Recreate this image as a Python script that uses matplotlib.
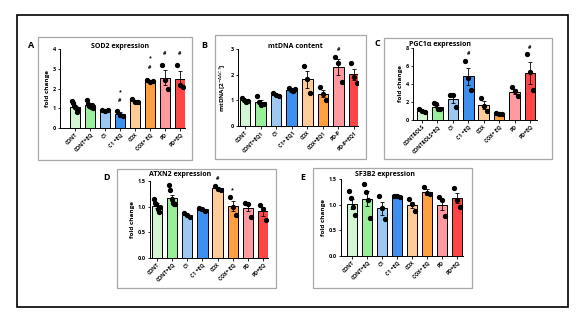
import numpy as np
import matplotlib
matplotlib.use("Agg")
import matplotlib.pyplot as plt
from matplotlib.patches import Rectangle

plt.rcParams['font.family'] = ['Open Sans', 'DejaVu Sans']

colors = ["#d3f5d3", "#99ee99", "#9cc8f2", "#3d8ff0",
          "#ffcc99", "#ff9f40", "#ff9ba0", "#ff4545"]

# panel A - SOD2
sod2_labels = ["CONT", "CONT+EQ", "C1", "C1 +EQ", "COX", "COX+ EQ", "PD", "PD+EQ"]
sod2_mean = [1.08, 1.15, 0.90, 0.70, 1.35, 2.40, 2.55, 2.50]
sod2_err = [0.10, 0.08, 0.02, 0.12, 0.07, 0.05, 0.38, 0.38]
sod2_pts = [[1.35, 1.25, 1.10, 1.00, 0.80, 0.95],
            [1.40, 1.20, 1.10, 1.05, 1.15, 1.00],
            [0.90, 0.88, 0.92],
            [0.85, 0.65, 0.60],
            [1.45, 1.30, 1.30],
            [2.45, 2.35, 2.40],
            [3.20, 2.45, 2.00],
            [3.20, 2.20, 2.10]]
sod2_marks = [(3, 1.83, "*"), (3, 1.40, "#"), (5, 3.57, "*"), (5, 3.07, "#"),
              (6, 3.78, "#"), (7, 3.78, "#")]

# panel B - mtDNA
mt_labels = ["CONT", "CONT+EQ1", "C1", "C1+ EQ1", "COX", "COX+EQ1", "PD-P", "PD-P+EQ1"]
mt_mean = [1.00, 0.92, 1.21, 1.42, 1.82, 1.26, 2.30, 2.01]
mt_err = [0.03, 0.08, 0.05, 0.05, 0.33, 0.14, 0.30, 0.22]
mt_pts = [[1.10, 1.00, 0.95, 0.98],
          [1.15, 0.95, 0.80, 0.85, 0.85],
          [1.28, 1.20, 1.15],
          [1.48, 1.40, 1.35, 1.45],
          [2.35, 1.85, 1.27],
          [1.52, 1.25, 1.00],
          [2.69, 2.47, 1.71],
          [2.45, 1.90, 1.69]]
mt_marks = [(6, 2.98, "#")]

# panel C - PGC1a
pgc_labels = ["CONTROLS", "CONTROLS+EQ", "C1", "C1 +EQ", "COX", "COX+ EQ", "PD", "PD+EQ"]
pgc_mean = [1.05, 1.50, 2.30, 4.85, 1.70, 0.70, 3.15, 5.25]
pgc_err = [0.10, 0.20, 0.45, 0.95, 0.45, 0.05, 0.30, 1.20]
pgc_pts = [[1.25, 1.00, 0.90],
           [1.85, 1.75, 1.20, 1.20],
           [2.75, 2.75, 1.40],
           [6.55, 4.70, 3.30],
           [2.45, 1.60, 1.05],
           [0.75, 0.70, 0.65],
           [3.70, 3.20, 2.65],
           [7.30, 5.30, 3.30]]
pgc_marks = [(3, 7.4, "#"), (7, 8.05, "#")]

# panel D - ATXN2
atx_labels = ["CONT", "CONT+EQ", "C1", "C1 +EQ", "COX", "COX+ EQ", "PD", "PD+EQ"]
atx_mean = [1.02, 1.17, 0.83, 0.95, 1.36, 1.02, 0.98, 0.91]
atx_err = [0.05, 0.06, 0.01, 0.03, 0.03, 0.10, 0.07, 0.09]
atx_pts = [[1.15, 1.08, 1.05, 0.95, 0.90, 1.00],
           [1.42, 1.32, 1.15, 1.08, 1.05, 1.05],
           [0.88, 0.83, 0.80],
           [0.98, 0.95, 0.92],
           [1.40, 1.35, 1.33],
           [1.19, 0.99, 0.83],
           [1.08, 1.06, 0.80],
           [1.03, 0.96, 0.75]]
atx_marks = [(4, 1.55, "#"), (5, 1.32, "*")]

# panel E - SF3B2
sf_labels = ["CONT", "CONT+EQ", "C1", "C1 +EQ", "COX", "COX+ EQ", "PD", "PD+EQ"]
sf_mean = [1.02, 1.12, 0.93, 1.16, 1.00, 1.25, 1.00, 1.13]
sf_err = [0.10, 0.14, 0.13, 0.01, 0.06, 0.06, 0.10, 0.10]
sf_pts = [[1.27, 1.13, 0.95, 0.80],
          [1.40, 1.25, 1.10, 0.74],
          [1.17, 0.93, 0.73],
          [1.17, 1.16, 1.15],
          [1.12, 1.02, 0.88],
          [1.35, 1.22, 1.20],
          [1.15, 1.10, 0.78],
          [1.33, 1.10, 0.95]]
sf_marks = []

W, H = 580, 329
fig = plt.figure(figsize=(5.8, 3.29), dpi=100)


def px_rect(x0, y0, x1, y1):
    # pixel box (top-left origin) -> figure fraction
    return [x0 / W, 1 - y1 / H, (x1 - x0) / W, (y1 - y0) / H]


def box(x0, y0, x1, y1, color, lw):
    fig.patches.append(Rectangle((x0 / W, 1 - y1 / H), (x1 - x0) / W, (y1 - y0) / H,
                                 transform=fig.transFigure, fill=False,
                                 edgecolor=color, linewidth=lw))


def draw_panel(rect, labels, mean, err, pts, marks, ylim, yticks, ylabel, title,
               title_xy, xlim, ytfmt="{:g}"):
    ax = fig.add_axes(px_rect(*rect))
    x = np.arange(len(labels))
    ax.bar(x, mean, width=0.68, color=colors, edgecolor="black", linewidth=0.7, zorder=2)
    ax.errorbar(x, mean, yerr=err, fmt="none", ecolor="black", elinewidth=0.6,
                capsize=1.6, capthick=0.6, zorder=3)
    for i, p in enumerate(pts):
        offs = np.linspace(-0.2, 0.2, len(p))
        ax.plot(i + offs, p, "o", color="black", markersize=2.8, zorder=4)
    for i, yv, s in marks:
        ax.text(i, yv, s, ha="center", va="center", fontsize=3.8, fontweight="bold")
    ax.set_xlim(*xlim)
    ax.set_ylim(*ylim)
    ax.set_yticks(yticks)
    ax.set_yticklabels([ytfmt.format(t) for t in yticks], fontsize=4, fontweight="bold")
    ax.set_xticks(x)
    ax.set_xticklabels(labels, rotation=45, ha="right", rotation_mode="anchor",
                       fontsize=3.7, fontweight="bold")
    ax.tick_params(axis="both", length=1.8, width=0.6, pad=1)
    for s in ["top", "right"]:
        ax.spines[s].set_visible(False)
    for s in ["left", "bottom"]:
        ax.spines[s].set_linewidth(0.7)
    ax.set_ylabel(ylabel, fontsize=4.6, fontweight="bold", labelpad=2)
    fig.text(title_xy[0] / W, 1 - title_xy[1] / H, title, ha="center", va="center",
             fontsize=5, fontweight="bold")
    return ax


# outer frame and panel frames
box(17, 15, 568, 307, "black", 1.2)
box(38, 37, 192, 160, "#a8a8a8", 0.9)
box(215, 35, 366, 159, "#a8a8a8", 0.9)
box(384, 38, 552, 159, "#a8a8a8", 0.9)
box(117, 169, 276, 288, "#a8a8a8", 0.9)
box(313, 168, 472, 288, "#a8a8a8", 0.9)

for lab, (lx, ly) in zip("ABCDE", [(31, 45), (204, 45), (377, 44), (107, 177), (303, 177)]):
    fig.text(lx / W, 1 - ly / H, lab, ha="center", va="center", fontsize=6.5, fontweight="bold")

draw_panel((60, 49, 185, 128), sod2_labels, sod2_mean, sod2_err, sod2_pts, sod2_marks,
           (0, 4), [0, 1, 2, 3, 4], "fold change", "SOD2 expression", (120, 47), (-1.0, 7.33))
draw_panel((238, 49, 358, 126), mt_labels, mt_mean, mt_err, mt_pts, mt_marks,
           (0, 3), [0, 1, 2, 3], r"mtDNA[2$^{-\Delta\Delta CT}$]", "mtDNA content", (295, 47),
           (-0.45, 7.26))
draw_panel((413, 48, 537, 120), pgc_labels, pgc_mean, pgc_err, pgc_pts, pgc_marks,
           (0, 8), [0, 2, 4, 6, 8], "fold change", "PGC1\u03b1 expression", (440, 45),
           (-0.58, 7.45))
draw_panel((150, 181, 268, 258), atx_labels, atx_mean, atx_err, atx_pts, atx_marks,
           (0, 1.5), [0, 0.5, 1.0, 1.5], "fold change", "ATXN2 expression", (180, 174),
           (-0.46, 7.33), ytfmt="{:.1f}")
draw_panel((341, 179, 463, 256), sf_labels, sf_mean, sf_err, sf_pts, sf_marks,
           (0, 1.5), [0, 0.5, 1.0, 1.5], "fold change", "SF3B2 expression", (385, 174),
           (-0.73, 7.4), ytfmt="{:.1f}")

fig.savefig("out.png", dpi=100)
